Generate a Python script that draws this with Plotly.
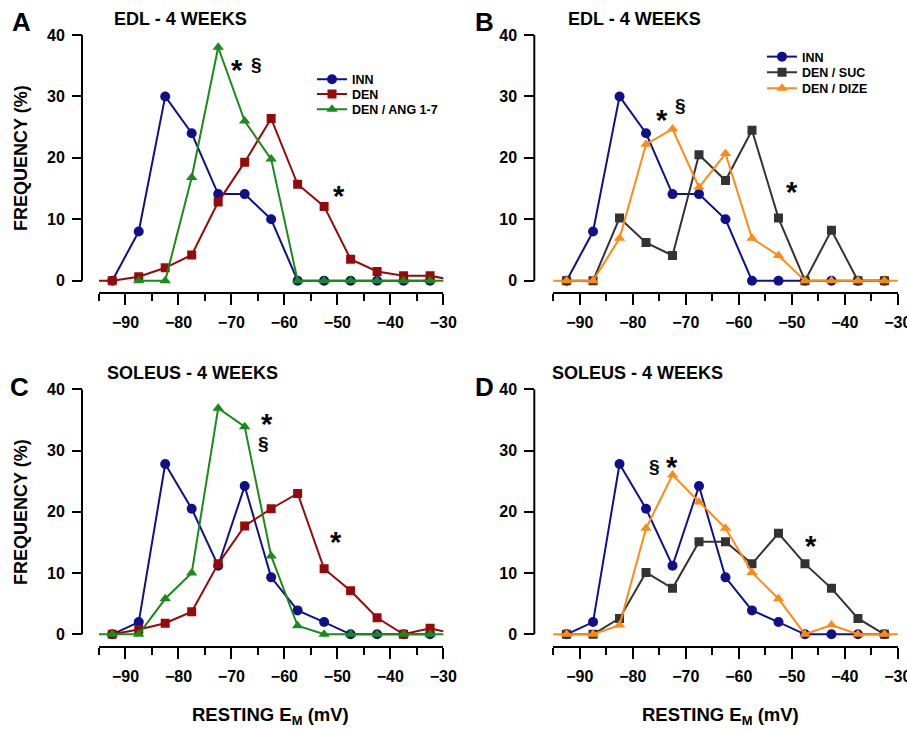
import plotly.graph_objects as go

W, H = 907, 729

# ---------------- data ----------------
bins = [-97.5, -92.5, -87.5, -82.5, -77.5, -72.5, -67.5, -62.5, -57.5,
        -52.5, -47.5, -42.5, -37.5, -32.5, -27.5]

edl_inn = [None, 0, 8, 30, 24, 14.1, 14.1, 10, 0, 0, 0, 0, 0, 0, None]
edl_den = [0, 0, 0.65, 2.1, 4.2, 12.8, 19.3, 26.4, 15.7, 12.1, 3.5, 1.5, 0.8, 0.8, 0]
edl_ang = [None, None, 0, 0, 16.8, 38.0, 26.0, 19.8, 0, 0, 0, 0, 0, 0, 0]
edl_suc = [None, 0, 0, 10.2, 6.2, 4.1, 20.5, 16.3, 24.5, 10.2, 0, 8.2, 0, 0, None]
edl_dize = [0, 0, 0, 6.9, 22.2, 24.7, 15.2, 20.7, 6.9, 4.1, 0, 0, 0, 0, 0]

sol_inn = [None, 0, 2, 27.8, 20.5, 11.2, 24.2, 9.3, 3.9, 2.0, 0, 0, 0, 0, None]
sol_den = [None, 0, 0.8, 1.8, 3.7, 11.5, 17.7, 20.5, 23.0, 10.7, 7.1, 2.7, 0, 1.0, 0]
sol_ang = [0, 0, 0, 5.8, 10.0, 36.9, 33.9, 12.8, 1.4, 0, 0, 0, 0, 0, 0]
sol_suc = [None, 0, 0, 2.6, 10.1, 7.5, 15.1, 15.1, 11.5, 16.5, 11.5, 7.5, 2.6, 0, None]
sol_dize = [0, 0, 0, 1.5, 17.3, 26.0, 21.6, 17.3, 10.1, 5.8, 0, 1.5, 0, 0, 0]

x_ticks = [-90, -80, -70, -60, -50, -40, -30]
y_ticks = [0, 10, 20, 30, 40]
panel_titles = ["EDL - 4 WEEKS", "EDL - 4 WEEKS", "SOLEUS - 4 WEEKS", "SOLEUS - 4 WEEKS"]
panel_letters = ["A", "B", "C", "D"]

# ---------------- styles ----------------
FONT = "Liberation Sans, Arial, sans-serif"
C_INN = "#10108a"
C_DEN = "#960a0a"
C_ANG = "#1a8a1a"
C_SUC = "#333333"
C_DIZE = "#ff8a14"

series_style = {
    "INN": dict(color=C_INN, symbol="circle", size=10),
    "DEN": dict(color=C_DEN, symbol="square", size=9),
    "DEN / ANG 1-7": dict(color=C_ANG, symbol="triangle-up", size=10),
    "DEN / SUC": dict(color=C_SUC, symbol="square", size=9),
    "DEN / DIZE": dict(color=C_DIZE, symbol="triangle-up", size=10),
}

# panel geometry in pixels: x-axis left/right, y-axis x, y(40) pixel, y(0) pixel, x-axis pixel
panels = [
    dict(xl=99, xr=443.3, ya=82, top=35, zero=280.7, bot=292.3),
    dict(xl=553.3, xr=897.7, ya=534.3, top=35, zero=280.7, bot=292.3),
    dict(xl=99, xr=443.3, ya=82, top=389.3, zero=634.3, bot=646.3),
    dict(xl=553.3, xr=897.7, ya=534.3, top=389.3, zero=634.3, bot=646.3),
]

panel_series = [
    [("INN", edl_inn), ("DEN", edl_den), ("DEN / ANG 1-7", edl_ang)],
    [("INN", edl_inn), ("DEN / SUC", edl_suc), ("DEN / DIZE", edl_dize)],
    [("INN", sol_inn), ("DEN", sol_den), ("DEN / ANG 1-7", sol_ang)],
    [("INN", sol_inn), ("DEN / SUC", sol_suc), ("DEN / DIZE", sol_dize)],
]
# one single-item legend per legend row (panels A and B only)
legend_ids = [["legend", "legend2", "legend3"], ["legend4", "legend5", "legend6"], None, None]
legend_x = [312, 762]
legend_rows = [[77.7, 92.3, 107.7], [55, 70.7, 86.7]]


def px(x):
    return x / W


def py(y):
    return 1 - y / H


fig = go.Figure()
layout = dict(
    template="none",
    width=W, height=H,
    margin=dict(l=0, r=0, t=0, b=0, pad=0, autoexpand=False),
    paper_bgcolor="white", plot_bgcolor="white",
    font=dict(family=FONT, color="black"),
    showlegend=True,
)
shapes = []
annotations = []

for i, p in enumerate(panels):
    n = "" if i == 0 else str(i + 1)
    xa, ya = "x" + n, "y" + n
    scale = (p["zero"] - p["top"]) / 40.0
    ymin = -(p["bot"] - p["zero"]) / scale
    layout["xaxis" + n] = dict(
        domain=[px(p["xl"]), px(p["xr"])], anchor=ya, range=[-95, -30], automargin=False,
        showline=True, linecolor="black", linewidth=2, showgrid=False, zeroline=False,
        ticks="outside", ticklen=11, tickwidth=2, tickcolor="black",
        tickvals=x_ticks, ticklabelstandoff=3, ticklabeloverflow="allow",
        tickfont=dict(family=FONT, size=16, weight="bold", color="black"),
        minor=dict(ticks="outside", ticklen=7, tickwidth=2, tickcolor="black",
                   tickvals=[-95, -85, -75, -65, -55, -45, -35]),
    )
    layout["yaxis" + n] = dict(
        domain=[py(p["bot"]), py(p["top"])], anchor="free", position=px(p["ya"]),
        range=[ymin, 40], automargin=False, showline=False, showgrid=False, zeroline=False,
        ticks="outside", ticklen=10, tickwidth=2, tickcolor="black",
        tickvals=y_ticks, ticklabelstandoff=4, ticklabeloverflow="allow",
        tickfont=dict(family=FONT, size=16, weight="bold", color="black"),
    )
    shapes.append(dict(type="line", xref="paper", yref=ya, x0=px(p["ya"]), x1=px(p["ya"]),
                       y0=0, y1=40, line=dict(color="black", width=2)))
    for k, (name, vals) in enumerate(panel_series[i]):
        st = series_style[name]
        lg = legend_ids[i][k] if legend_ids[i] else None
        fig.add_trace(go.Scatter(
            x=bins, y=vals, mode="lines+markers", name=name,
            xaxis=xa, yaxis=ya,
            line=dict(color=st["color"], width=2),
            marker=dict(color=st["color"], symbol=st["symbol"], size=st["size"]),
            showlegend=lg is not None,
            legend=lg if lg else "legend",
            cliponaxis=True,
        ))

for j in range(2):
    for k in range(3):
        lid = legend_ids[j][k]
        layout[lid] = dict(x=px(legend_x[j]), y=py(legend_rows[j][k] - 13), xanchor="left", yanchor="top",
                           bgcolor="rgba(0,0,0,0)", itemwidth=30, tracegroupgap=0,
                           font=dict(family=FONT, size=12.5, weight="bold", color="black"))

# panel letters and titles
letter_pos = [(21, 22), (484, 22), (19, 387), (484, 387)]
title_pos = [(180, 19), (634, 19), (192, 373), (637, 373)]
for i in range(4):
    lx, ly = letter_pos[i]
    annotations.append(dict(x=px(lx), y=py(ly), xref="paper", yref="paper", showarrow=False,
                            text="<b>%s</b>" % panel_letters[i], xanchor="center", yanchor="middle",
                            font=dict(family=FONT, size=26, color="black")))
    tx, ty = title_pos[i]
    annotations.append(dict(x=px(tx), y=py(ty), xref="paper", yref="paper", showarrow=False,
                            text="<b>%s</b>" % panel_titles[i], xanchor="center", yanchor="middle",
                            font=dict(family=FONT, size=18, color="black")))

# axis titles
for cy in (158, 512):
    annotations.append(dict(x=px(21), y=py(cy), xref="paper", yref="paper", showarrow=False,
                            text="<b>FREQUENCY (%)</b>", textangle=-90, xanchor="center", yanchor="middle",
                            font=dict(family=FONT, size=18, color="black")))
for cx in (270, 720):
    annotations.append(dict(x=px(cx), y=py(716), xref="paper", yref="paper", showarrow=False,
                            text="<b>RESTING E<sub>M</sub> (mV)</b>", xanchor="center", yanchor="middle",
                            font=dict(family=FONT, size=18.5, color="black")))

# significance marks (pixel centres)
stars = [(237, 62), (339, 188), (662, 112), (792, 184), (267, 416), (336, 534), (672, 459), (811, 538)]
sections = [(256, 65), (680, 106), (263, 443), (654, 466)]
for sx, sy in stars:
    annotations.append(dict(x=px(sx), y=py(sy + 8), xref="paper", yref="paper", showarrow=False,
                            text="<b>*</b>", xanchor="center", yanchor="middle",
                            font=dict(family=FONT, size=29, color="black")))
for sx, sy in sections:
    annotations.append(dict(x=px(sx), y=py(sy), xref="paper", yref="paper", showarrow=False,
                            text="<b>§</b>", xanchor="center", yanchor="middle",
                            font=dict(family=FONT, size=19, color="black")))

layout["shapes"] = shapes
layout["annotations"] = annotations
fig.update_layout(**layout)
fig.write_html("out.html", config={"displayModeBar": False},
               post_script="document.body.style.margin='0px';")
